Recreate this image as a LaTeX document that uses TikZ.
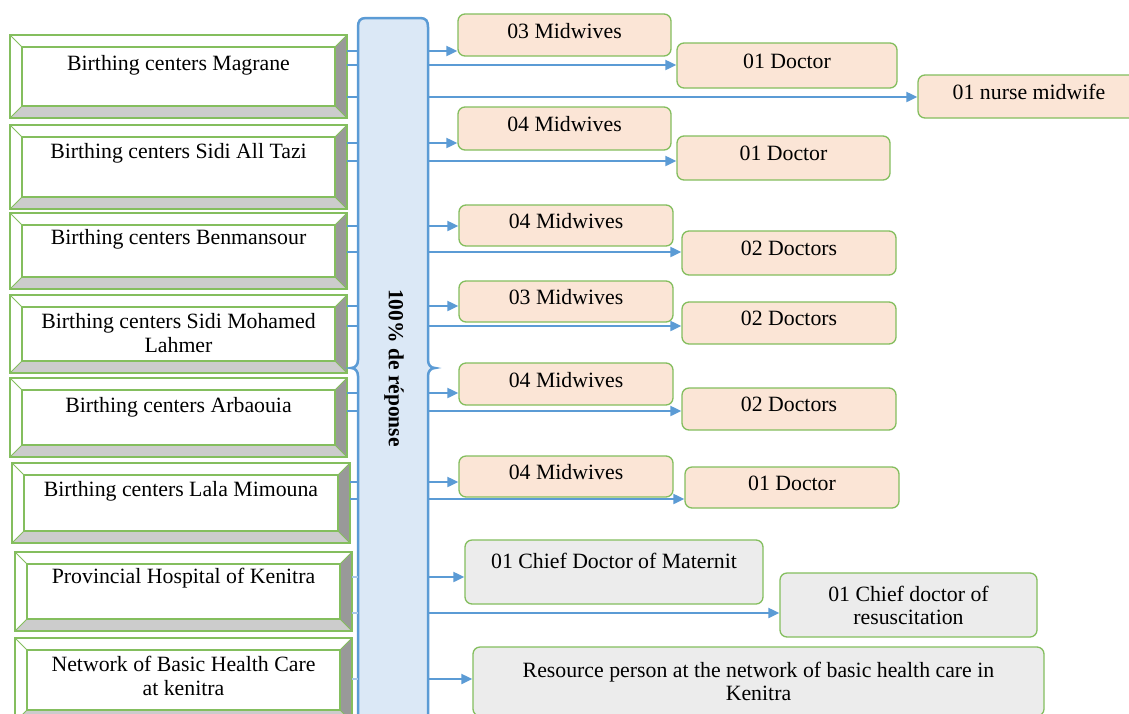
\documentclass[tikz,border=0pt]{standalone}
\usepackage{fontspec}
\setmainfont{Liberation Serif}
\usetikzlibrary{arrows.meta}
\definecolor{gline}{RGB}{132,190,94}
\definecolor{peach}{RGB}{251,229,214}
\definecolor{lgray}{RGB}{236,236,236}
\definecolor{pblue}{RGB}{91,155,213}
\definecolor{pfill}{RGB}{219,232,246}
\definecolor{bevR}{RGB}{153,153,153}
\definecolor{bevB}{RGB}{204,204,204}
\definecolor{faint}{RGB}{170,200,232}
\newcommand\bevbox[7]{%
  \fill[white] (#2,#3) rectangle (#4,#5);
  \fill[bevR] (#4,#3) -- (#4-12,#3+12) -- (#4-12,#5-12) -- (#4,#5) -- cycle;
  \fill[bevB] (#2,#5) -- (#2+12,#5-12) -- (#4-12,#5-12) -- (#4,#5) -- cycle;
  \draw[gline, line width=1.4pt] (#2,#3) rectangle (#4,#5);
  \draw[gline, line width=1.4pt] (#2+12,#3+12) rectangle (#4-12,#5-12);
  \draw[gline, line width=0.8pt] (#2,#3) -- (#2+12,#3+12) (#4,#3) -- (#4-12,#3+12)
     (#2,#5) -- (#2+12,#5-12) (#4,#5) -- (#4-12,#5-12);
  \node[inner sep=0pt, minimum width={#4-#2}, minimum height={#5-#3}] (#1) at ({(#2+#4)/2},{(#3+#5)/2}) {};
  \node[lefttext] (#1t) at ({(#2+#4)/2},#6) {#7};
}
\newcommand\rbx[7][]{\node[rbox,#1,minimum width={#5-#3},minimum height={#6-#4}] (#2) at ({(#3+#5)/2},{(#4+#6)/2}) {#7};}
\begin{document}
\begin{tikzpicture}[x=1pt,y=-1pt,
  lefttext/.style={font=\fontsize{21.8}{24}\selectfont, align=center, inner sep=0pt},
  rbox/.style={draw=gline, line width=1.3pt, rounded corners=7pt, fill=peach,
     font=\fontsize{21.8}{23}\selectfont, align=center, inner sep=0pt, text depth=9pt},
  gbox/.style={fill=lgray, text depth=0pt},
  arr/.style={draw=pblue, line width=2pt, -{Triangle[length=11pt,width=10pt]}},
  stub/.style={draw=pblue, line width=1.6pt},
  fstub/.style={draw=faint, line width=1.6pt},
]
\useasboundingbox (0,0) rectangle (1129,713);
\fill[white] (0,0) rectangle (1129,713);

% left bevel boxes
\bevbox{b1}{10}{35}{347}{118}{65}{Birthing centers Magrane}
\bevbox{b2}{10}{125}{347}{209}{153}{Birthing centers Sidi All Tazi}
\bevbox{b3}{10}{213}{347}{289}{239}{Birthing centers Benmansour}
\bevbox{b4}{10}{295}{347}{373}{333}{Birthing centers Sidi Mohamed\\Lahmer}
\bevbox{b5}{10}{378}{347}{457}{407}{Birthing centers Arbaouia}
\bevbox{b6}{12}{463}{350}{543}{491}{Birthing centers Lala Mimouna}
\bevbox{b7}{15}{552}{352}{631}{578}{Provincial Hospital of Kenitra}
\bevbox{b8}{15}{638}{352}{722}{676}{Network of Basic Health Care\\at kenitra}

% central panel
\node[inner sep=0pt, minimum width=70pt, minimum height=710pt] (panel) at (393,373) {};
\path[draw=pblue, line width=2.5pt, fill=pfill]
  (358,730) -- (358,376) .. controls (358,371) and (355,368) .. (351,368)
  .. controls (355,368) and (358,365) .. (358,360) -- (358,27)
  .. controls (358,21) and (360,18) .. (366,18) -- (420,18)
  .. controls (426,18) and (428,21) .. (428,27) -- (428,360)
  .. controls (428,365) and (431,368) .. (435,368)
  .. controls (431,368) and (428,371) .. (428,376) -- (428,730);
\node[rotate=-90, inner sep=0pt, font=\bfseries\fontsize{21.5}{24}\selectfont] (ptext) at (394,368) {100\% de réponse};

% right boxes
\rbx{m1}{458}{14}{671}{56}{03 Midwives}
\rbx{d1}{677}{43}{897}{88}{01 Doctor}
\rbx{n1}{918}{75}{1140}{118}{01 nurse midwife}
\rbx{m2}{458}{107}{671}{150}{04 Midwives}
\rbx{d2}{677}{136}{890}{180}{01 Doctor}
\rbx{m3}{459}{205}{673}{246}{04 Midwives}
\rbx{d3}{682}{231}{896}{275}{02 Doctors}
\rbx{m4}{459}{281}{673}{322}{03 Midwives}
\rbx{d4}{682}{302}{896}{344}{02 Doctors}
\rbx{m5}{459}{363}{673}{405}{04 Midwives}
\rbx{d5}{682}{388}{896}{430}{02 Doctors}
\rbx{m6}{459}{456}{673}{497}{04 Midwives}
\rbx{d6}{685}{467}{899}{508}{01 Doctor}
\rbx[gbox]{c1}{465}{540}{763}{604}{01 Chief Doctor of Maternit\\\strut}
\rbx[gbox]{c2}{780}{573}{1037}{637}{01 Chief doctor of\\resuscitation}
\rbx[gbox]{c3}{473}{647}{1044}{716}{Resource person at the network of basic health care in\\Kenitra}

% left stubs
\foreach \n/\y in {b1/51,b1/65,b1/97,b2/143,b2/161,b3/226,b3/252,b4/306,b4/326,b5/393,b5/411,b6/482,b6/499}
  \draw[stub] (\n.east |- 0,\y) -- (panel.west |- 0,\y);
\foreach \n/\y in {b7/577,b7/613,b8/679}
  \draw[fstub] (\n.east |- 0,\y) -- (panel.west |- 0,\y);

% right arrows
\foreach \n/\y in {m1/51,d1/65,n1/97,m2/143,d2/161,m3/226,d3/252,m4/306,d4/326,m5/393,d5/411,m6/482,d6/499,c1/577,c2/613,c3/679}
  \draw[arr] (panel.east |- 0,\y) -- (\n.west |- 0,\y);
\end{tikzpicture}
\end{document}
